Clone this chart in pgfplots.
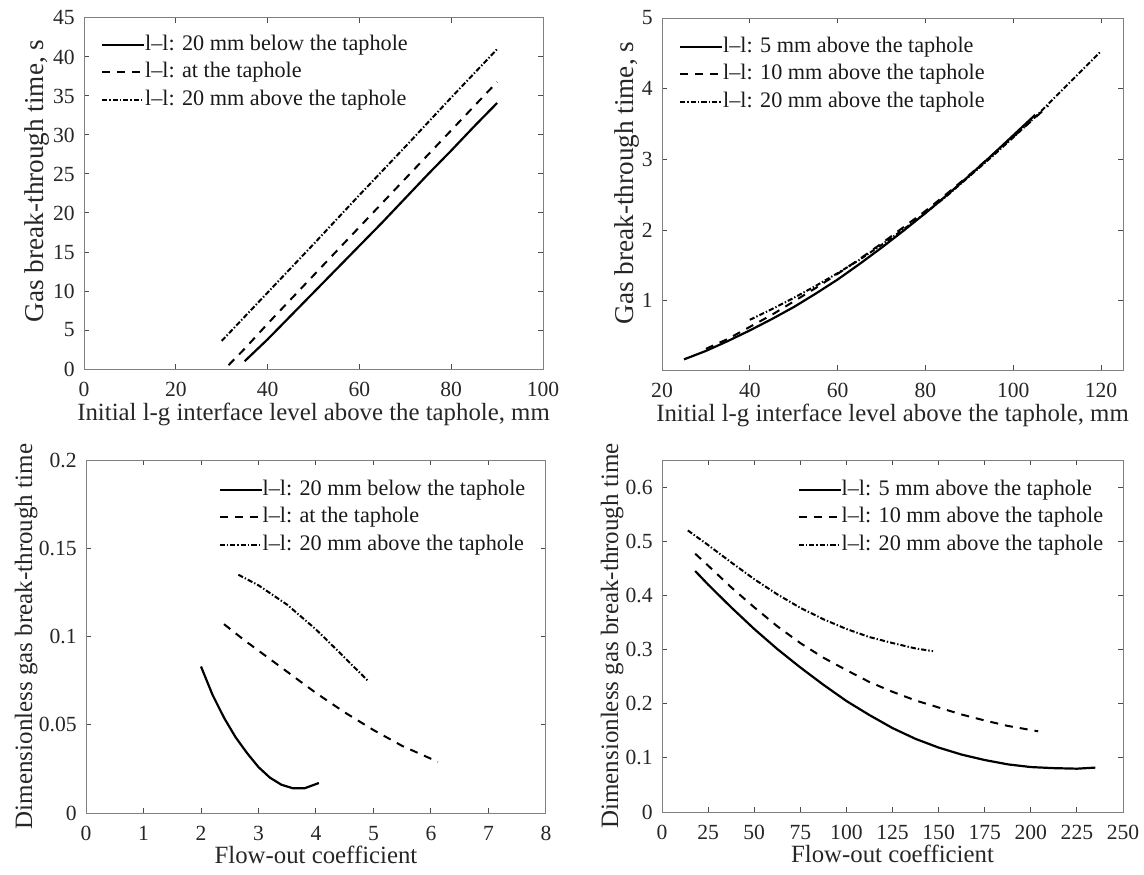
\documentclass[border=0pt]{standalone}
\usepackage{fontspec}
\setmainfont{Liberation Serif}
\usepackage{pgfplots}
\pgfplotsset{compat=1.18}

\newcommand{\lgf}{\fontsize{11.1}{13}\selectfont}
\pgfplotsset{
 myax/.style={
  scale only axis,
  anchor=south west,
  axis line style={black!50, line width=0.5pt},
  tick style={black!70, line width=0.5pt},
  major tick length=2.5pt,
  tick align=inside,
  xtick pos=both, ytick pos=both,
  every tick label/.append style={font=\fontsize{10.8}{13}\selectfont, text=black!85},
  /pgf/number format/assume math mode=true,
  xticklabel style={inner sep=0pt, yshift=-6.3pt},
  yticklabel style={inner sep=0pt, xshift=-4.5pt, /pgf/number format/fixed},
  every axis label/.append style={text=black!85, inner sep=0pt},
  xlabel style={font=\fontsize{12.4}{14}\selectfont},
  legend style={draw=none, fill=none, inner sep=0pt, anchor=north west, row sep=2.25pt, column sep=0pt,
    text=black!90,
    nodes={inner ysep=0.5pt, inner xsep=0pt, text height=8pt, text depth=2.5pt}},
  legend cell align=left,
  legend image code/.code={\draw[##1] (0pt,0pt) -- (21pt,0pt);},
  scaled ticks=false,
 },
 s1/.style={black, line width=1.1pt},
 s2/.style={black, line width=1pt, dash pattern=on 4pt off 3.5pt},
 s3/.style={black, line width=1pt, dash pattern=on 2.6pt off 1pt on 0.7pt off 1pt},
}

\begin{document}
\begin{tikzpicture}
\path[use as bounding box] (0,0) rectangle (572pt,437pt);

% top-left
\begin{axis}[myax, at={(42pt,252.5pt)}, width=229.5pt, height=175.5pt,
  xmin=0, xmax=100, ymin=0, ymax=45,
  xtick={0,20,...,100}, ytick={0,5,...,45},
  xlabel={Initial l-g interface level above the taphole, mm},
  ylabel={Gas break-through time, s},
  xlabel style={at={(axis description cs:0.5,-0.129)}, anchor=center},
  ylabel style={at={(axis description cs:-0.102,0.536)}, anchor=center, font=\fontsize{13.6}{15}\selectfont},
  legend style={at={(axis description cs:0.036,0.957)}},
]
\addplot[s1] coordinates {(35,1.0)(40,3.8)(45,6.8)(50,9.8)(55,12.8)(60,15.8)(65,18.8)(70,21.9)(75,25.0)(80,28.0)(85,31.1)(90,34.1)};
\addlegendentry{\lgf l--l: 20 mm below the taphole}
\addplot[s2] coordinates {(31.5,0.5)(35,2.6)(40,5.8)(50,12.0)(60,18.2)(70,24.4)(80,30.6)(90,36.8)};
\addlegendentry{\lgf l--l: at the taphole}
\addplot[s3] coordinates {(30,3.6)(40,9.8)(50,16.0)(60,22.3)(70,28.5)(80,34.8)(90,41.0)};
\addlegendentry{\lgf l--l: 20 mm above the taphole}
\end{axis}

% top-right
\begin{axis}[myax, at={(331pt,252pt)}, width=230.5pt, height=176pt,
  xmin=20, xmax=125, ymin=0.02, ymax=5,
  xtick={20,40,...,120}, ytick={1,2,3,4,5},
  xlabel={Initial l-g interface level above the taphole, mm},
  ylabel={Gas break-through time, s},
  xlabel style={at={(axis description cs:0.5,-0.128)}, anchor=center},
  ylabel style={at={(axis description cs:-0.076,0.531)}, anchor=center, font=\fontsize{13.6}{15}\selectfont},
  legend style={at={(axis description cs:0.036,0.952)}},
]
\addplot[s1] coordinates {(25,0.17)(30,0.29)(35,0.43)(40,0.58)(45,0.74)(50,0.91)(55,1.10)(60,1.30)(65,1.52)(70,1.75)(75,1.99)(80,2.24)(85,2.50)(90,2.77)(95,3.05)(100,3.34)(105,3.63)};
\addlegendentry{\lgf l--l: 5 mm above the taphole}
\addplot[s2] coordinates {(30,0.32)(35,0.46)(40,0.63)(45,0.80)(50,0.99)(55,1.18)(60,1.38)(65,1.59)(70,1.81)(75,2.04)(80,2.27)(85,2.52)(90,2.78)(95,3.05)(100,3.32)(105,3.59)(108,3.76)};
\addlegendentry{\lgf l--l: 10 mm above the taphole}
\addplot[s3] coordinates {(40,0.73)(45,0.88)(50,1.04)(55,1.21)(60,1.39)(65,1.58)(70,1.79)(75,2.01)(80,2.24)(85,2.49)(90,2.76)(95,3.03)(100,3.31)(105,3.60)(110,3.91)(115,4.22)(120,4.53)};
\addlegendentry{\lgf l--l: 20 mm above the taphole}
\end{axis}

% bottom-left
\begin{axis}[myax, at={(43pt,30.5pt)}, width=230pt, height=176.5pt,
  xmin=0, xmax=8, ymin=0, ymax=0.2,
  xtick={0,1,...,8}, ytick={0,0.05,0.1,0.15,0.2},
  xlabel={Flow-out coefficient},
  ylabel={Dimensionless gas break-through time},
  xlabel style={at={(axis description cs:0.5,-0.118)}, anchor=center},
  ylabel style={at={(axis description cs:-0.13,0.5)}, anchor=center, font=\fontsize{12.5}{14}\selectfont},
  legend style={at={(axis description cs:0.287,0.949)}},
]
\addplot[s1] coordinates {(2.0,0.083)(2.2,0.067)(2.4,0.054)(2.6,0.043)(2.8,0.034)(3.0,0.026)(3.2,0.020)(3.4,0.016)(3.6,0.014)(3.8,0.014)(4.05,0.017)};
\addlegendentry{\lgf l--l: 20 mm below the taphole}
\addplot[s2] coordinates {(2.4,0.107)(2.75,0.098)(3.0,0.092)(3.5,0.080)(4.0,0.068)(4.5,0.057)(5.0,0.047)(5.5,0.038)(6.12,0.029)};
\addlegendentry{\lgf l--l: at the taphole}
\addplot[s3] coordinates {(2.65,0.135)(3.0,0.129)(3.5,0.118)(4.0,0.104)(4.5,0.088)(4.9,0.075)};
\addlegendentry{\lgf l--l: 20 mm above the taphole}
\end{axis}

% bottom-right
\begin{axis}[myax, at={(331pt,31pt)}, width=230.5pt, height=176pt,
  xmin=0, xmax=250, ymin=0, ymax=0.65,
  xtick={0,25,...,250}, ytick={0,0.1,...,0.6},
  xlabel={Flow-out coefficient},
  ylabel={Dimensionless gas break-through time},
  xlabel style={at={(axis description cs:0.5,-0.118)}, anchor=center},
  ylabel style={at={(axis description cs:-0.108,0.5)}, anchor=center, font=\fontsize{12.5}{14}\selectfont},
  legend style={at={(axis description cs:0.293,0.949)}},
]
\addplot[s1] coordinates {(18,0.445)(25,0.420)(37.5,0.378)(50,0.338)(62.5,0.301)(75,0.267)(87.5,0.235)(100,0.205)(112.5,0.179)(125,0.155)(137.5,0.135)(150,0.119)(162.5,0.106)(175,0.096)(187.5,0.088)(200,0.083)(212.5,0.081)(225,0.080)(235,0.082)};
\addlegendentry{\lgf l--l: 5 mm above the taphole}
\addplot[s2] coordinates {(18,0.477)(25,0.455)(37.5,0.415)(50,0.378)(62.5,0.343)(75,0.312)(87.5,0.285)(100,0.262)(112.5,0.240)(125,0.222)(137.5,0.206)(150,0.193)(162.5,0.180)(175,0.169)(187.5,0.159)(204,0.149)};
\addlegendentry{\lgf l--l: 10 mm above the taphole}
\addplot[s3] coordinates {(14,0.520)(25,0.493)(37.5,0.461)(50,0.430)(62.5,0.402)(75,0.377)(87.5,0.356)(100,0.338)(112.5,0.323)(125,0.312)(137.5,0.302)(147,0.297)};
\addlegendentry{\lgf l--l: 20 mm above the taphole}
\end{axis}
\end{tikzpicture}
\end{document}
